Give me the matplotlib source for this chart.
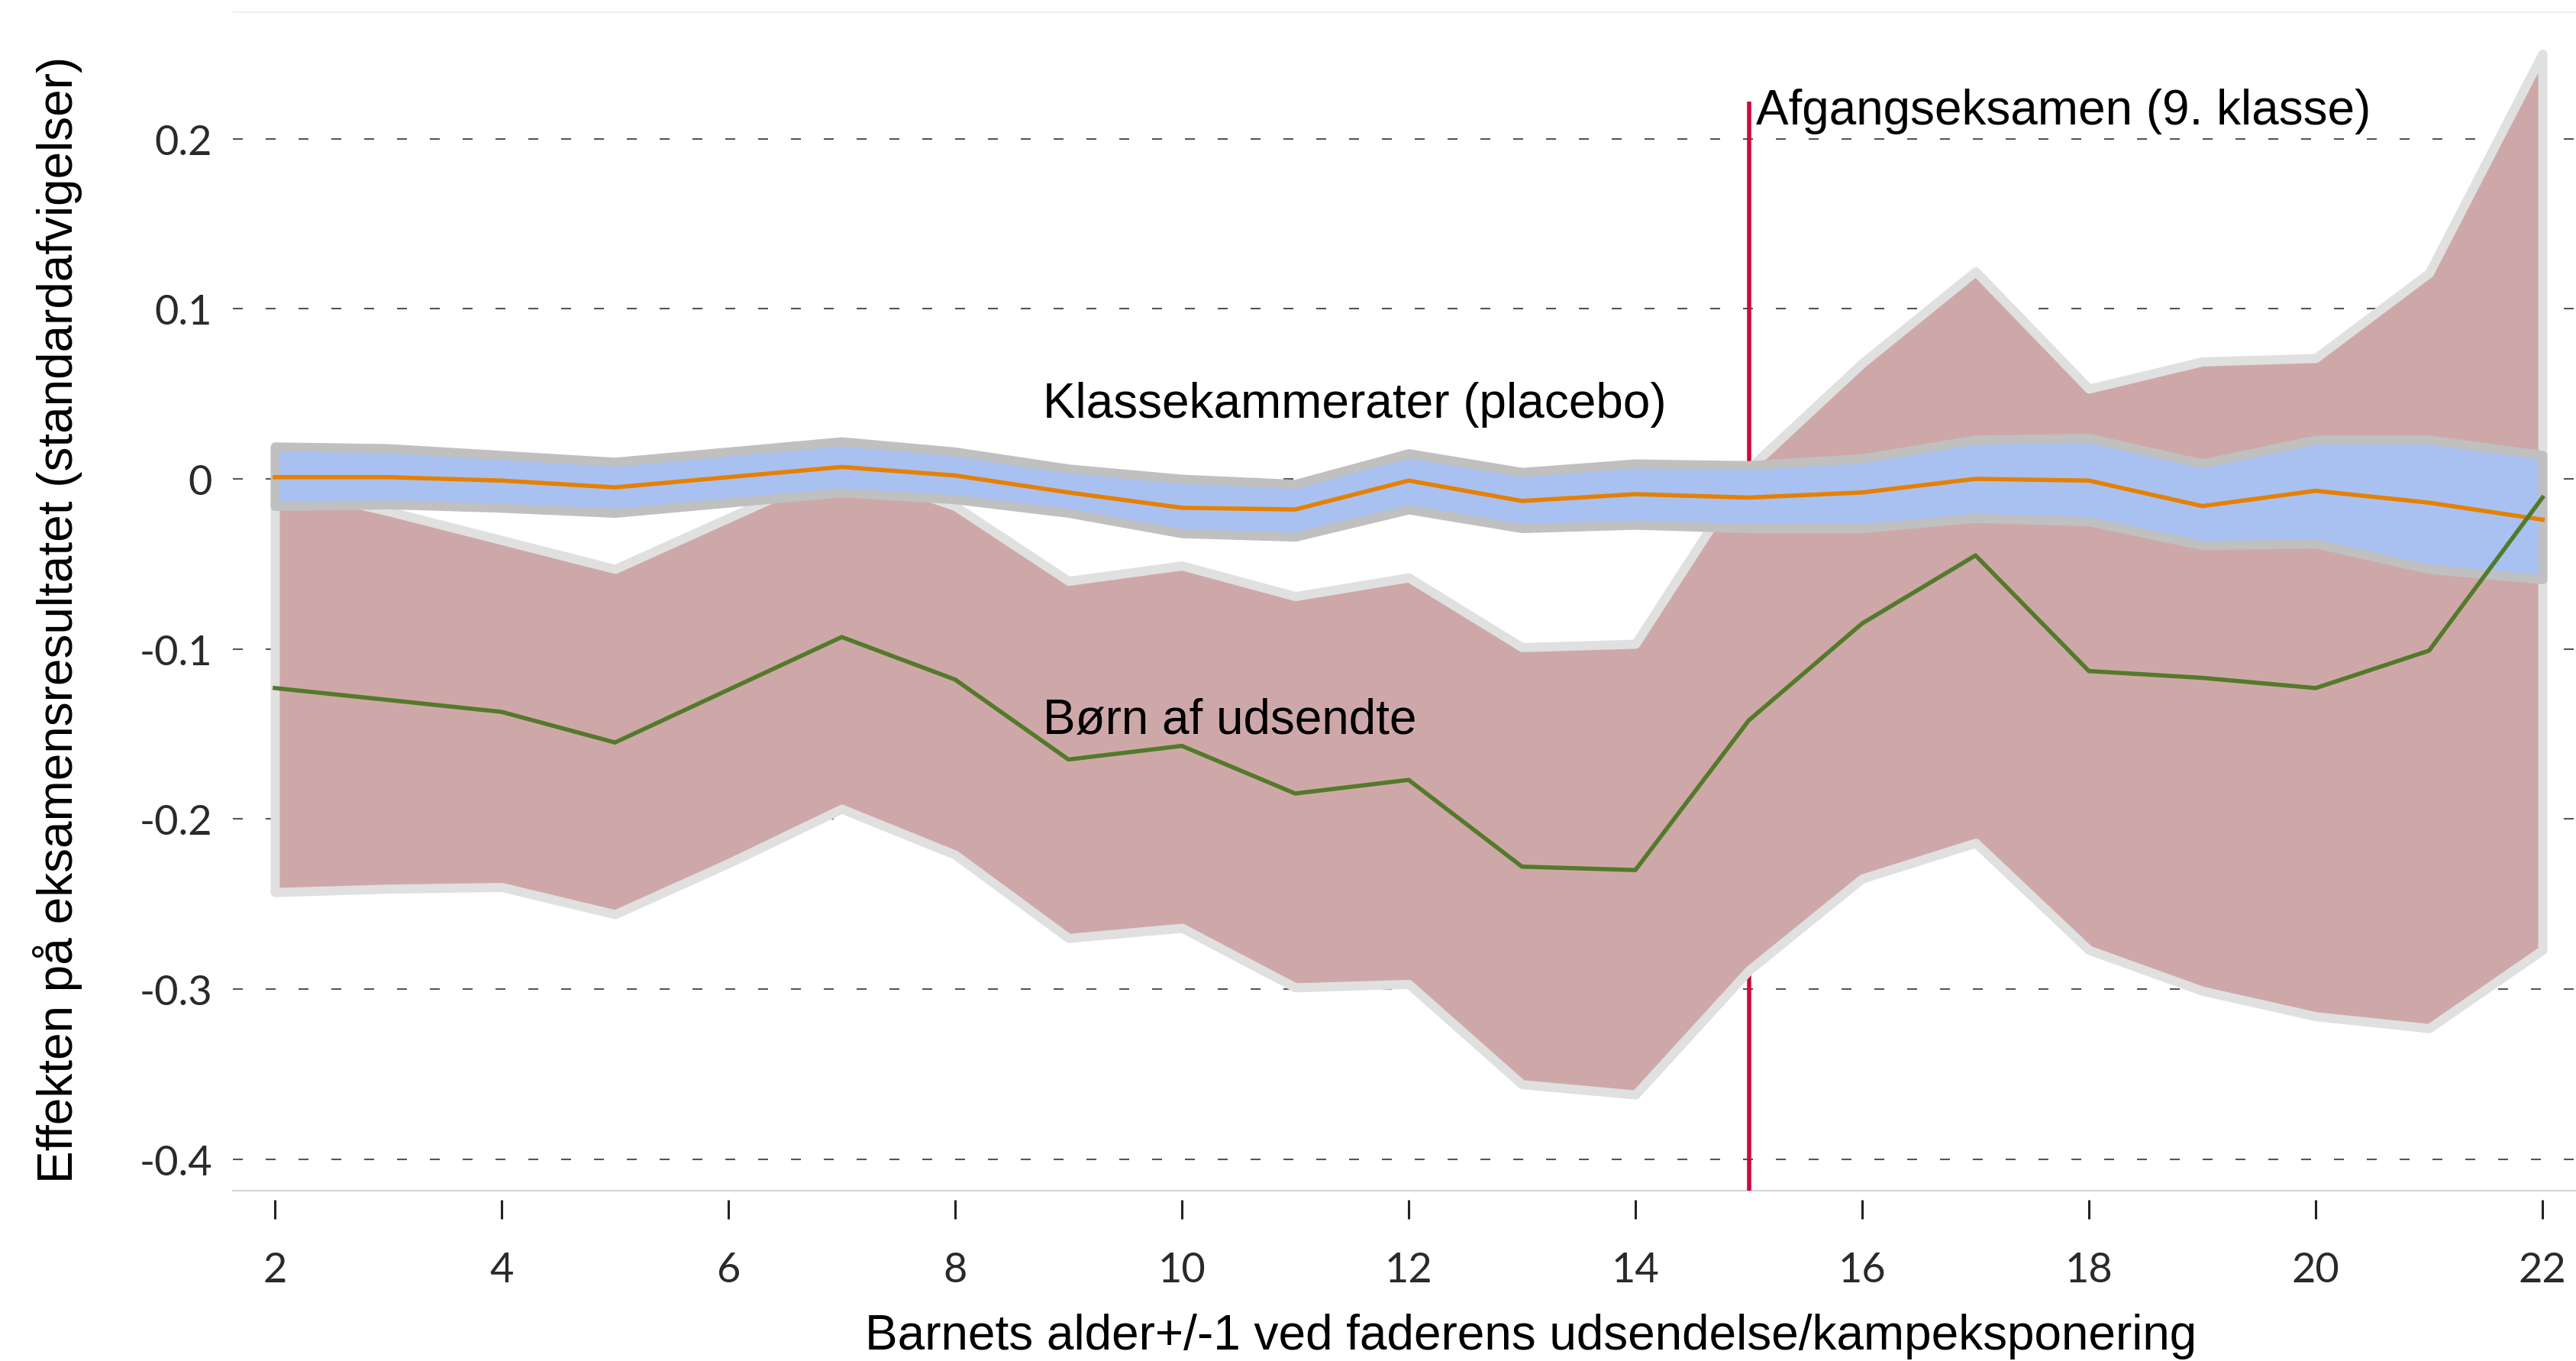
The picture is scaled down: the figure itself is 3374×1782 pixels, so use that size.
import matplotlib.pyplot as plt

# --- data ---
ages = list(range(2, 23))

# children of deployed fathers: estimate and confidence band
born_est = [-0.123, -0.130, -0.137, -0.155, -0.124, -0.093, -0.118, -0.165,
            -0.157, -0.185, -0.177, -0.228, -0.230, -0.142, -0.085, -0.045,
            -0.113, -0.117, -0.123, -0.101, -0.011]
born_upper = [-0.004, -0.019, -0.036, -0.053, -0.023, 0.007, -0.016, -0.060,
              -0.051, -0.069, -0.058, -0.099, -0.097, 0.006, 0.068, 0.122,
              0.053, 0.069, 0.071, 0.121, 0.250]
born_lower = [-0.243, -0.241, -0.240, -0.256, -0.226, -0.194, -0.221, -0.270,
              -0.264, -0.299, -0.297, -0.356, -0.362, -0.289, -0.235, -0.214,
              -0.277, -0.301, -0.316, -0.323, -0.277]

# classmates (placebo): estimate and confidence band
plac_est = [0.001, 0.001, -0.001, -0.005, 0.001, 0.007, 0.002, -0.008,
            -0.017, -0.018, -0.001, -0.013, -0.009, -0.011, -0.008, 0.000,
            -0.001, -0.016, -0.007, -0.014, -0.024]
plac_upper = [0.019, 0.018, 0.014, 0.010, 0.016, 0.022, 0.016, 0.006,
              0.000, -0.003, 0.015, 0.004, 0.009, 0.008, 0.012, 0.023,
              0.024, 0.009, 0.023, 0.023, 0.014]
plac_lower = [-0.016, -0.015, -0.017, -0.020, -0.014, -0.008, -0.012, -0.020,
              -0.032, -0.034, -0.018, -0.029, -0.027, -0.029, -0.029, -0.023,
              -0.025, -0.039, -0.038, -0.053, -0.059]

exam_age = 15
exam_top = 0.222

xticks = [2, 4, 6, 8, 10, 12, 14, 16, 18, 20, 22]
yticks = [-0.4, -0.3, -0.2, -0.1, 0, 0.1, 0.2]
ytick_labels = ["-0.4", "-0.3", "-0.2", "-0.1", "0", "0.1", "0.2"]

xlim = (1.63, 22.296)
ylim = (-0.4185, 0.2744)

# --- plot ---
fig = plt.figure(figsize=(33.74, 17.83), dpi=100)
ax = fig.add_axes([0.0904, 0.1251, 0.9096, 0.8654])
ax.set_xlim(*xlim)
ax.set_ylim(*ylim)

ax.set_axisbelow(True)
ax.grid(axis="y", color="#555555", linewidth=1.5,
        linestyle=(0, (6.24, 14.4)))

# exam marker (drawn under the bands)
ax.vlines(exam_age, ylim[0], exam_top, color="#c90a3c",
          linewidth=4.0, zorder=1.5)

ax.fill_between(ages, born_lower, born_upper, facecolor="#cea8a8",
                edgecolor="#e0e0e0", linewidth=8.6, joinstyle="round",
                zorder=2)
ax.fill_between(ages, plac_lower, plac_upper, facecolor="#a9c1f1",
                edgecolor="#c0c0c0", linewidth=8.6, joinstyle="round",
                zorder=3)

ax.plot(ages, plac_est, color="#e68000", linewidth=4.0, zorder=4)
ax.plot(ages, born_est, color="#537a2b", linewidth=4.0, zorder=4)

txt = dict(family="Liberation Sans", fontsize=46, color="black", zorder=5)
ax.text(15.064, 0.2088, "Afgangseksamen (9. klasse)", va="baseline", **txt)
ax.text(8.774, 0.0364, "Klassekammerater (placebo)", va="baseline", **txt)
ax.text(8.774, -0.1495, "Børn af udsendte", va="baseline", **txt)

# spines: faint top line, bottom line with ticks set below it
for side in ["left", "right"]:
    ax.spines[side].set_visible(False)
ax.spines["top"].set_color("#ececec")
ax.spines["top"].set_linewidth(1.2)
ax.spines["bottom"].set_position(("outward", 8.6))
ax.spines["bottom"].set_visible(False)
ax.plot([0, 1], [0, 0], transform=ax.transAxes, color="#d4d4d4",
        linewidth=1.5, clip_on=False, zorder=1)

ax.set_xticks(xticks)
ax.set_yticks(yticks)
ax.set_yticklabels(ytick_labels)
ax.tick_params(axis="x", direction="out", length=18, width=2.2,
               color="#222222", pad=30, labelsize=39, labelcolor="#2a2a2a")
ax.tick_params(axis="y", length=0, pad=19.4, labelsize=39,
               labelcolor="#2a2a2a")
for lab in ax.get_xticklabels() + ax.get_yticklabels():
    lab.set_family("Lato")
    lab.set_fontweight("normal")

ax.set_xlabel("Barnets alder+/-1 ved faderens udsendelse/kampeksponering",
              family="Liberation Sans", fontsize=46, va="center")
ax.xaxis.set_label_coords(0.554, -0.123)
ax.set_ylabel("Effekten på eksamensresultatet (standardafvigelser)",
              family="Liberation Sans", fontsize=46, va="center")
ax.yaxis.set_label_coords(-0.0749, 0.485)

fig.savefig("out.png", dpi=100)
